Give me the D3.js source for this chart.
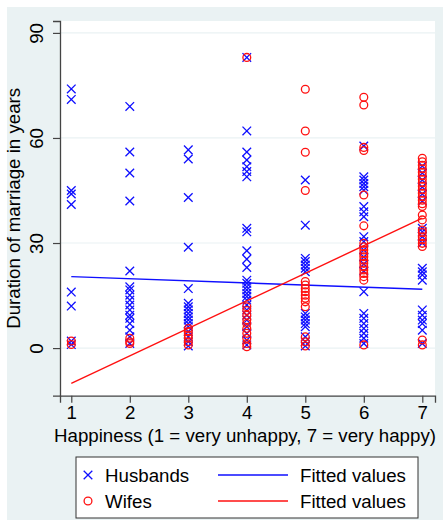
<!DOCTYPE html>
<html><head><meta charset="utf-8">
<script src="https://cdn.jsdelivr.net/npm/d3@7"></script>
<style>body{margin:0;background:#fff}svg{display:block}</style>
</head><body>
<script>
// Happiness categories
const happiness = [1, 2, 3, 4, 5, 6, 7];
// Husbands: duration of marriage (years) per happiness category
const husbands = [
  [74, 71, 45, 44, 41, 16, 12, 2, 1],
  [69, 56, 50, 42, 22, 17.5, 16.6, 15.1, 13.7, 12.3, 10.9, 9.4, 8.5, 7, 5.1, 3.2, 1.3],
  [56.6, 54, 43, 28.8, 17, 12.8, 11.8, 10.9, 9.9, 8.9, 8, 7, 6.1, 4.7, 3.2, 1.8, 0.6],
  [83, 62, 56, 53.7, 51.8, 50.4, 48.9, 34.2, 33.2, 27.8, 25.4, 23, 19.4, 18.5, 17.5, 16.6, 15.6, 14.7, 13.7, 12.3, 10.9, 9.4, 8, 6.1, 4.2, 2.3, 0.9],
  [48, 35.1, 25.6, 24.7, 23.7, 22.8, 21.8, 9.9, 8.9, 8, 7, 6.1, 3.2, 1.8, 0.6],
  [57.7, 48.9, 48, 47, 46.1, 45.1, 40.4, 38.9, 37.5, 31.8, 30.4, 28, 26, 24, 22, 16.1, 9.9, 8.5, 7, 5.6, 4.2, 2.8, 1.3],
  [52, 50, 48, 46, 44, 42, 34.2, 33.2, 31.8, 30, 22.8, 21.8, 20.9, 19.4, 10.9, 9.4, 8, 7, 5.1, 1.3]
];
// Wifes: duration of marriage (years) per happiness category
const wifes = [
  [2, 1],
  [2.8, 1.8, 1.3],
  [5.6, 4.7, 3.7, 2.8, 1.8, 0.9],
  [83, 11.8, 10.7, 9.4, 8.1, 7, 5.6, 4.2, 2.8, 1.3, 0.4],
  [73.9, 62, 55.9, 45, 19, 18, 17, 16.1, 15.1, 14.2, 13.2, 11.8, 3.2, 1.8, 0.6],
  [71.6, 69.4, 57.3, 56.4, 43.7, 34.9, 29.9, 28.9, 28, 27, 26.1, 25.1, 24.2, 23.2, 22.3, 21.3, 20.4, 19.4, 0.9],
  [54.2, 53.2, 52.2, 51.2, 50.2, 49.2, 48.2, 47.2, 46.2, 45.2, 44.2, 43.2, 42.2, 41.2, 40.4, 38, 36.6, 33.7, 33, 31.8, 30.9, 29.9, 29, 2.3, 0.9]
];
// Fitted values at happiness = 1 and 7
const fitX = [1, 7];
const husbandsFit = [20.4, 16.8];
const wifesFit = [-10.1, 37.1];
const yTicks = [0, 30, 60, 90];
const legendLabels = ["Husbands", "Fitted values", "Wifes", "Fitted values"];
const xTitle = "Happiness (1 = very unhappy, 7 = very happy)";
const yTitle = "Duration of marriage in years";

const W = 443, H = 520;
const BLUE = "#0f0fff", RED = "#ff1010", BG = "#eaf2f3", AX = "#444";
const FS = 18.7;
const font = "'Liberation Sans', Arial, sans-serif";
const svg = d3.select("body").append("svg").attr("width", W).attr("height", H)
  .style("font-family", font);
svg.append("rect").attr("width", W).attr("height", H).attr("fill", "#fff");
svg.append("rect").attr("x", 7).attr("y", 7).attr("width", W - 7).attr("height", H - 7).attr("fill", BG);

const L = 60, R = 435, T = 21, B = 395.7;
svg.append("rect").attr("x", L).attr("y", T).attr("width", R - L).attr("height", B - T).attr("fill", "#fff");

const x = d3.scaleLinear().domain([0.807, 7.217]).range([L, R]);
const y = d3.scaleLinear().domain([-13.6, 93.4]).range([B, T]);

// gridlines
svg.append("g").selectAll("line").data(yTicks).join("line")
  .attr("x1", L).attr("x2", R).attr("y1", d => y(d)).attr("y2", d => y(d))
  .attr("stroke", BG).attr("stroke-width", 1.2);

// axes
const yAxis = svg.append("g").attr("transform", `translate(${L},0)`)
  .call(d3.axisLeft(y).tickValues(yTicks).tickSize(7).tickPadding(0));
yAxis.select(".domain").attr("stroke", AX).attr("stroke-width", 1.3);
yAxis.selectAll(".tick line").attr("stroke", AX).attr("stroke-width", 1.2);
yAxis.selectAll(".tick text").attr("font-size", FS).attr("font-family", font).attr("fill", "#000")
  .attr("text-anchor", "middle").attr("x", 0).attr("dy", 0)
  .attr("transform", "translate(-17,0) rotate(-90)").attr("y", 0);

const xAxis = svg.append("g").attr("transform", `translate(0,${B})`)
  .call(d3.axisBottom(x).tickValues(happiness).tickFormat(d3.format("d")).tickSize(7).tickPadding(3));
xAxis.select(".domain").attr("stroke", AX).attr("stroke-width", 1.3);
xAxis.selectAll(".tick line").attr("stroke", AX).attr("stroke-width", 1.2);
xAxis.selectAll(".tick text").attr("font-size", FS).attr("font-family", font).attr("fill", "#000");

// titles
svg.append("text").attr("x", 245).attr("y", 442).attr("text-anchor", "middle")
  .attr("font-size", FS).text(xTitle);
svg.append("text").attr("transform", `translate(20,${(T + B) / 2}) rotate(-90)`).attr("text-anchor", "middle")
  .attr("font-size", FS).text(yTitle);

const xs = 4.3, cr = 3.9;
function cross(g, cx, cy) {
  g.append("path").attr("d", `M${cx - xs},${cy - xs}L${cx + xs},${cy + xs}M${cx - xs},${cy + xs}L${cx + xs},${cy - xs}`)
    .attr("stroke", BLUE).attr("stroke-width", 1.3).attr("fill", "none");
}
const hPts = husbands.flatMap((vals, i) => vals.map(v => [happiness[i], v]));
const wPts = wifes.flatMap((vals, i) => vals.map(v => [happiness[i], v]));
const line = d3.line().x(d => x(d[0])).y(d => y(d[1]));

const gH = svg.append("g");
hPts.forEach(d => cross(gH, x(d[0]), y(d[1])));
svg.append("path").datum(fitX.map((v, i) => [v, husbandsFit[i]])).attr("d", line)
  .attr("stroke", BLUE).attr("stroke-width", 1.4).attr("fill", "none");
svg.append("g").selectAll("circle").data(wPts).join("circle")
  .attr("cx", d => x(d[0])).attr("cy", d => y(d[1])).attr("r", cr)
  .attr("fill", "none").attr("stroke", RED).attr("stroke-width", 1.3);
svg.append("path").datum(fitX.map((v, i) => [v, wifesFit[i]])).attr("d", line)
  .attr("stroke", RED).attr("stroke-width", 1.4).attr("fill", "none");

// legend
const lg = svg.append("g");
lg.append("rect").attr("x", 76).attr("y", 457).attr("width", 342).attr("height", 61)
  .attr("fill", "#fff").attr("stroke", "#333").attr("stroke-width", 1);
const rows = [475, 501];
cross(lg, 88, rows[0]);
lg.append("circle").attr("cx", 88).attr("cy", rows[1]).attr("r", cr).attr("fill", "none").attr("stroke", RED).attr("stroke-width", 1.3);
lg.append("line").attr("x1", 218).attr("x2", 288).attr("y1", rows[0]).attr("y2", rows[0]).attr("stroke", BLUE).attr("stroke-width", 1.4);
lg.append("line").attr("x1", 218).attr("x2", 288).attr("y1", rows[1]).attr("y2", rows[1]).attr("stroke", RED).attr("stroke-width", 1.4);
[[105, rows[0], 0], [300, rows[0], 1], [105, rows[1], 2], [300, rows[1], 3]].forEach(([tx, ty, k]) =>
  lg.append("text").attr("x", tx).attr("y", ty).attr("dy", "0.35em").attr("font-size", FS).text(legendLabels[k]));
</script>
</body></html>
